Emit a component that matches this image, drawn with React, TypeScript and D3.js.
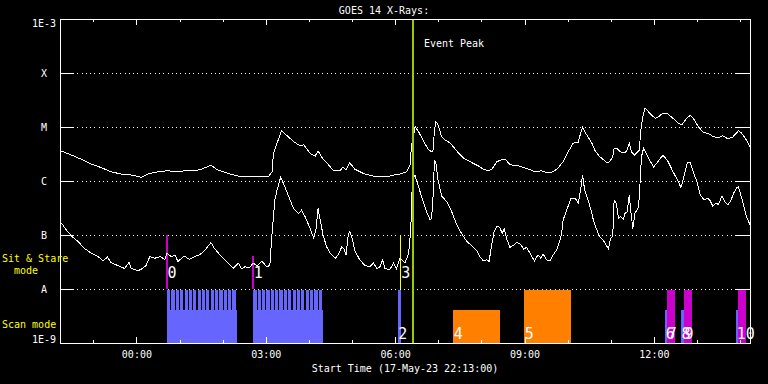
import React from 'react';
import * as d3 from 'd3';

// ---------- data ----------
const START_UTC = Date.UTC(2023, 4, 17, 22, 13, 0); // 17-May-23 22:13:00
const SPAN_MIN = 960; // 16 hours shown
const PEAK_MIN = 491; // event peak, minutes after start

const levelValues = [1e-3, 1e-4, 1e-5, 1e-6, 1e-7, 1e-8, 1e-9];
const levelLabels = ['1E-3', 'X', 'M', 'C', 'B', 'A', '1E-9'];

// [minutes after start, log10 flux W/m^2]
const longChannel: [number, number][] = [
  [1,-5.44],[16,-5.52],[30,-5.60],[44,-5.69],[57,-5.75],[71,-5.83],[85,-5.87],[99,-5.89],[113,-5.93],[122,-5.87],
  [136,-5.83],[150,-5.81],[164,-5.83],[173,-5.81],[187,-5.81],[197,-5.78],[210,-5.71],[220,-5.80],[234,-5.86],[248,-5.91],
  [250,-5.92],[264,-5.91],[278,-5.92],[290,-5.92],[295,-5.83],[297,-5.49],[302,-5.30],[308,-5.07],[315,-5.15],[325,-5.27],
  [334,-5.35],[339,-5.33],[348,-5.49],[355,-5.54],[359,-5.44],[364,-5.56],[371,-5.66],[380,-5.80],[390,-5.80],[394,-5.74],
  [398,-5.80],[403,-5.66],[410,-5.78],[422,-5.86],[436,-5.91],[445,-5.91],[455,-5.92],[464,-5.89],[473,-5.87],[482,-5.83],
  [487,-5.70],[489,-5.36],[492,-5.15],[494,-4.99],[499,-5.09],[505,-5.24],[512,-5.41],[517,-5.46],[519,-5.43],[521,-5.06],
  [523,-4.90],[526,-4.96],[531,-5.18],[536,-5.24],[543,-5.30],[550,-5.41],[557,-5.52],[563,-5.59],[573,-5.66],[582,-5.72],
  [589,-5.78],[596,-5.81],[601,-5.78],[608,-5.64],[614,-5.61],[620,-5.60],[626,-5.70],[638,-5.72],[645,-5.75],[652,-5.78],
  [661,-5.83],[670,-5.81],[679,-5.85],[686,-5.83],[693,-5.76],[700,-5.64],[707,-5.46],[714,-5.30],[721,-5.28],[723,-5.18],
  [727,-5.01],[733,-5.15],[740,-5.30],[744,-5.43],[751,-5.55],[761,-5.66],[765,-5.64],[769,-5.55],[771,-5.39],[775,-5.39],
  [779,-5.46],[786,-5.48],[789,-5.43],[792,-5.30],[795,-5.46],[799,-5.52],[802,-5.48],[806,-5.43],[808,-5.06],[811,-4.81],
  [814,-4.65],[821,-4.75],[828,-4.84],[832,-4.82],[839,-4.74],[845,-4.75],[853,-4.84],[860,-4.93],[865,-4.96],[872,-4.84],
  [877,-4.78],[881,-4.84],[888,-4.99],[895,-5.10],[902,-5.12],[909,-5.18],[916,-5.20],[922,-5.16],[928,-5.21],[935,-5.20],
  [944,-5.07],[948,-5.11],[955,-5.24],[960,-5.36],
];

const shortChannel: [number, number][] = [
  [2,-6.78],[9,-6.91],[16,-7.02],[25,-7.12],[34,-7.25],[44,-7.34],[53,-7.40],[60,-7.48],[66,-7.41],[71,-7.51],
  [81,-7.57],[90,-7.62],[96,-7.51],[99,-7.62],[109,-7.66],[115,-7.62],[120,-7.56],[125,-7.40],[132,-7.43],[139,-7.40],
  [146,-7.45],[149,-7.34],[155,-7.40],[160,-7.37],[164,-7.49],[173,-7.39],[180,-7.45],[187,-7.40],[194,-7.37],[201,-7.29],
  [210,-7.14],[215,-7.25],[224,-7.39],[234,-7.52],[241,-7.62],[248,-7.52],[253,-7.63],[257,-7.59],[264,-7.60],[269,-7.52],
  [274,-7.57],[281,-7.49],[288,-7.59],[292,-7.56],[295,-6.97],[299,-6.35],[302,-6.17],[307,-5.93],[313,-6.11],[320,-6.35],
  [325,-6.51],[332,-6.60],[336,-6.54],[341,-6.66],[348,-6.88],[353,-7.06],[356,-6.91],[359,-6.51],[362,-6.72],[366,-7.00],
  [371,-7.22],[376,-7.34],[383,-7.43],[387,-7.37],[392,-7.22],[395,-7.25],[398,-7.37],[401,-7.00],[403,-6.94],[406,-7.03],
  [410,-7.28],[417,-7.46],[424,-7.56],[431,-7.59],[436,-7.52],[441,-7.62],[445,-7.59],[449,-7.46],[452,-7.62],[459,-7.64],
  [464,-7.52],[468,-7.62],[473,-7.43],[480,-7.52],[485,-7.34],[488,-6.91],[490,-6.11],[492,-5.92],[494,-5.90],[499,-6.11],
  [503,-6.29],[510,-6.57],[515,-6.72],[517,-6.69],[519,-6.29],[521,-5.61],[523,-5.67],[526,-5.98],[531,-6.28],[538,-6.38],
  [545,-6.57],[552,-6.81],[559,-6.98],[566,-7.12],[573,-7.20],[580,-7.29],[584,-7.40],[589,-7.48],[594,-7.46],[597,-7.49],
  [601,-7.15],[604,-6.94],[608,-6.83],[612,-6.86],[615,-6.97],[618,-6.89],[622,-7.09],[626,-7.23],[631,-7.19],[635,-7.14],
  [641,-7.17],[645,-7.26],[649,-7.23],[654,-7.34],[660,-7.48],[665,-7.37],[669,-7.43],[672,-7.35],[677,-7.46],[682,-7.48],
  [686,-7.37],[691,-7.28],[695,-7.12],[698,-6.97],[700,-6.72],[705,-6.54],[711,-6.32],[717,-6.32],[721,-6.41],[725,-6.11],
  [727,-5.89],[730,-6.17],[734,-6.32],[740,-6.60],[742,-6.72],[747,-6.91],[751,-7.03],[757,-7.12],[763,-7.26],[766,-7.06],
  [769,-7.03],[771,-6.35],[774,-6.41],[777,-6.69],[780,-6.66],[784,-6.71],[786,-6.60],[789,-6.57],[792,-6.26],[794,-6.54],
  [797,-6.88],[800,-6.60],[805,-6.48],[807,-6.04],[809,-5.55],[812,-5.39],[819,-5.58],[826,-5.74],[832,-5.64],[839,-5.52],
  [846,-5.64],[853,-5.83],[859,-5.98],[864,-6.12],[867,-5.98],[873,-5.66],[877,-5.66],[881,-5.83],[886,-6.01],[891,-6.26],
  [896,-6.35],[901,-6.32],[904,-6.35],[908,-6.46],[913,-6.41],[916,-6.44],[921,-6.28],[925,-6.38],[929,-6.44],[933,-6.38],
  [937,-6.23],[942,-6.12],[944,-6.11],[946,-6.20],[951,-6.44],[955,-6.66],[960,-6.81],
];

// Sit & Stare markers
const stareLabels = ['0', '1', '3'];
const stareTimes = [149, 269, 474];
const stareExtent = ['full', 'partial', 'full'];
const stareKinds = ['stare', 'stare', 'flag'];

// Scan-mode observations
const scanLabels = ['', '', '2', '4', '5', '6', '7', '8', '9', '10', ''];
const scanStarts = [149, 269, 470, 547, 646, 842, 845, 864, 868, 941, 943];
const scanEnds = [246, 366, 474, 612, 711, 845, 856, 868, 879, 943, 954];
const scanExtent = ['partial', 'partial', 'full', 'partial', 'full', 'partial', 'full', 'partial', 'full', 'partial', 'full'];
const scanKinds = ['scan', 'scan', 'scan', 'other', 'other', 'scan', 'stare', 'scan', 'stare', 'scan', 'stare'];
const scanSteps = [16, 16, 0, 0, 0, 0, 0, 0, 0, 0, 0];

const tickFormatLabel = '%H:%M';
const xTitle = 'Start Time (17-May-23 22:13:00)';
const chartTitle = 'GOES 14 X-Rays:';

// ---------- styles ----------
const COLORS: Record<string, string> = {
  scan: '#6666ff',
  stare: '#cc00cc',
  other: '#ff8000',
  flag: '#ffff00',
  peak: '#99cc00',
};
const EXTENT: Record<string, number> = { full: 1, partial: 0.62 };
const FONT = '"DejaVu Sans Mono", "Liberation Mono", monospace';

export default function App() {
  const W = 768, H = 384;
  const L = 60, R = 750, T = 19, B = 343;
  const toDate = (m: number) => new Date(START_UTC + m * 60000);
  const x = d3.scaleUtc().domain([toDate(0), toDate(SPAN_MIN)]).range([L, R]);
  const y = d3.scaleLog().domain([1e-9, 1e-3]).range([B, T]);
  const xm = (m: number) => x(toDate(m));

  const line = d3.line<[number, number]>()
    .x(d => xm(d[0]))
    .y(d => y(Math.pow(10, d[1])));

  const scanBand = d3.scaleLinear().domain([0, 1]).range([B, y(1e-8) + 1]);
  const stareBand = d3.scaleLinear().domain([0, 1]).range([y(1e-8), y(1e-7)]);

  const hours = d3.utcHour.range(toDate(0), toDate(SPAN_MIN));
  const fmt = d3.utcFormat(tickFormatLabel);

  const innerLevels = levelValues.slice(1, -1);

  return (
    <svg width={W} height={H} style={{ position: 'absolute', left: 0, top: 0, background: '#000', display: 'block' }}>
      <rect x={0} y={0} width={W} height={H} fill="#000" />
      {/* grid */}
      <g shapeRendering="crispEdges">
        {innerLevels.map((v, i) => (
          <g key={'g' + i}>
            <line x1={L} x2={R} y1={y(v)} y2={y(v)} stroke="#fff" strokeDasharray="1 3.3" />
            <line x1={L} x2={L + 14} y1={y(v)} y2={y(v)} stroke="#fff" />
            <line x1={R - 14} x2={R} y1={y(v)} y2={y(v)} stroke="#fff" />
          </g>
        ))}
      </g>

      {/* scan-mode bars */}
      <g shapeRendering="crispEdges">
        {scanStarts.map((s, i) => {
          const e = scanEnds[i];
          const col = COLORS[scanKinds[i]];
          const x0 = xm(s), x1 = xm(e);
          const steps = scanSteps[i];
          const parts: JSX.Element[] = [];
          parts.push(
            <rect key={'b' + i} x={x0} y={scanBand(EXTENT[scanExtent[i]])} width={Math.max(1, x1 - x0)}
              height={B - scanBand(EXTENT[scanExtent[i]])} fill={col} />
          );
          if (steps > 0) {
            const dt = (e - s) / steps;
            for (let k = 0; k < steps; k++) {
              const a = xm(s + k * dt);
              const b = xm(s + (k + 1) * dt) - 1.2;
              parts.push(
                <rect key={'s' + i + '_' + k} x={a} y={scanBand(1)} width={b - a}
                  height={B - scanBand(1)} fill={col} />
              );
            }
          }
          return <g key={'sc' + i}>{parts}</g>;
        })}
      </g>

      {/* sit & stare markers */}
      <g shapeRendering="crispEdges">
        {stareTimes.map((t, i) => (
          <line key={'m' + i} x1={xm(t)} x2={xm(t)} y1={stareBand(0)} y2={stareBand(EXTENT[stareExtent[i]])}
            stroke={COLORS[stareKinds[i]]} strokeWidth={stareKinds[i] === 'flag' ? 1.5 : 2} />
        ))}
      </g>

      {/* curves */}
      <g fill="none" stroke="#fff" strokeWidth={1} shapeRendering="crispEdges">
        <path d={line(longChannel) || ''} />
        <path d={line(shortChannel) || ''} />
      </g>

      {/* event peak */}
      <line x1={xm(PEAK_MIN)} x2={xm(PEAK_MIN)} y1={T} y2={B} stroke={COLORS.peak} strokeWidth={2} shapeRendering="crispEdges" />
      <text x={xm(PEAK_MIN) + 11} y={47} fill="#fff" fontFamily={FONT} fontSize={10}>Event Peak</text>

      {/* frame and x ticks */}
      <g stroke="#fff" shapeRendering="crispEdges" fill="none">
        <rect x={L} y={T} width={R - L} height={B - T} />
        {hours.map((h, i) => {
          const major = h.getUTCHours() % 3 === 0;
          const len = major ? 6 : 3;
          const xx = x(h);
          return (
            <g key={'t' + i}>
              <line x1={xx} x2={xx} y1={B} y2={B - len} />
              <line x1={xx} x2={xx} y1={T} y2={T + len} />
            </g>
          );
        })}
      </g>

      {/* labels */}
      <g fontFamily={FONT} fontSize={10} fill="#fff">
        {hours.filter(h => h.getUTCHours() % 3 === 0).map((h, i) => (
          <text key={'xl' + i} x={x(h)} y={358} textAnchor="middle">{fmt(h)}</text>
        ))}
        <text x={(L + R) / 2} y={372} textAnchor="middle">{xTitle}</text>
        <text x={384} y={14} textAnchor="middle">{chartTitle}</text>
        {levelValues.map((v, i) => {
          let yy = y(v) + 3.7;
          if (i === 0) yy = y(v) + 8;
          if (i === levelValues.length - 1) yy = y(v);
          return <text key={'yl' + i} x={44} y={yy} textAnchor="middle">{levelLabels[i]}</text>;
        })}
      </g>
      <g fontFamily={FONT} fontSize={10} fill="#ffff00">
        <text x={2} y={262}>Sit &amp; Stare</text>
        <text x={14} y={274}>mode</text>
        <text x={2} y={328}>Scan mode</text>
      </g>

      {/* event numbers */}
      <g fontFamily={FONT} fontSize={15} fill="#fff">
        {stareTimes.map((t, i) => (
          <text key={'sl' + i} x={xm(t) + 0.5} y={278}>{stareLabels[i]}</text>
        ))}
        {scanStarts.map((s, i) => scanLabels[i] ? (
          <text key={'cl' + i} x={xm(s) + 0.5} y={339}>{scanLabels[i]}</text>
        ) : null)}
      </g>
    </svg>
  );
}
